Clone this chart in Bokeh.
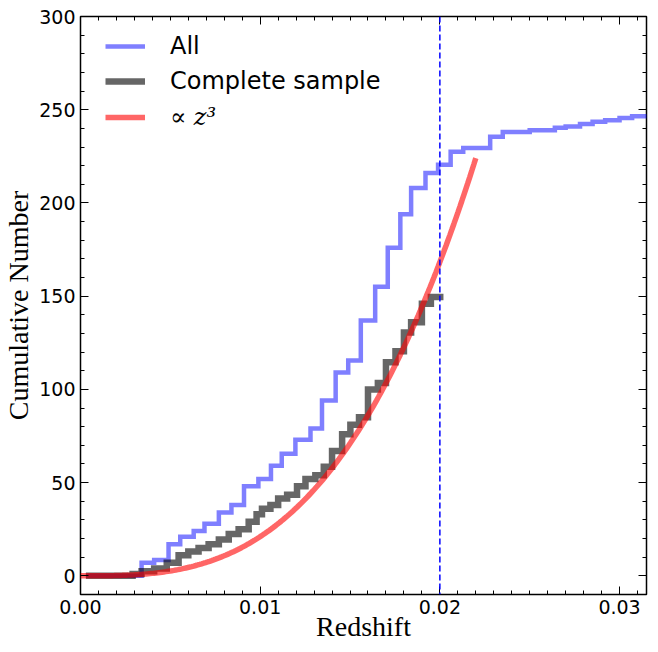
import numpy as np
from bokeh.plotting import figure
from bokeh.models import LinearAxis, FixedTicker, Span, Legend, LegendItem
from bokeh.embed import file_html
from bokeh.resources import INLINE

# ---- data ----
all_z = [0.0003, 0.0034, 0.0041, 0.0049, 0.00555, 0.0063, 0.0069, 0.0077, 0.0084,
         0.0091, 0.0099, 0.0106, 0.0112, 0.01196, 0.0128, 0.01344, 0.0142, 0.0149,
         0.0156, 0.0164, 0.0171, 0.0178, 0.0184, 0.0192, 0.0199, 0.0206, 0.0213,
         0.0228, 0.0235, 0.0250, 0.0264, 0.0270, 0.0278, 0.0285, 0.0292, 0.0300,
         0.0307, 0.0316]
all_n = [0, 7, 8.5, 17, 21, 24, 28, 34, 38,
         48, 52, 59, 65.5, 73, 79, 94, 109, 115.5,
         137, 155, 176, 194, 208, 216, 220.5, 227.5, 229.5,
         235.5, 238, 239, 240.3, 241, 242.4, 243.5, 244.4, 245.6,
         246.5, 247]

comp_z = [0.0003, 0.0029, 0.0034, 0.0041, 0.0048, 0.00546, 0.0060, 0.00657, 0.00713,
          0.0077, 0.00825, 0.0088, 0.00936, 0.0098, 0.0101, 0.01057, 0.0110, 0.0115,
          0.01205, 0.01252, 0.01307, 0.01354, 0.0140, 0.01456, 0.01502, 0.0155,
          0.0160, 0.01655, 0.0170, 0.01753, 0.0180, 0.0184, 0.0190, 0.0195, 0.0202]
comp_n = [0, 1, 2.5, 4, 7, 11, 13, 15, 17,
          19.5, 22.5, 25, 29, 33, 36, 38, 41.5, 43.5,
          48, 52, 54, 58.5, 67, 76, 81, 85,
          100, 103.5, 114.5, 120.5, 130.5, 136, 146, 149.5, 149.5]

model_z_end = 0.022
model_n_end = 224.0
model_z = np.linspace(0.0, model_z_end, 200)
model_n = model_n_end * (model_z / model_z_end) ** 3

z_limit = 0.02

x_ticks = [0.0, 0.01, 0.02, 0.03]
x_tick_labels = ["0.00", "0.01", "0.02", "0.03"]
x_minor = [round(i * 0.001, 4) for i in range(0, 32)]
y_ticks = [0, 50, 100, 150, 200, 250, 300]
y_tick_labels = ["0", "50", "100", "150", "200", "250", "300"]
y_minor = list(range(-10, 301, 10))

# ---- figure ----
p = figure(frame_width=566, frame_height=578, x_range=(0, 0.0315), y_range=(-10, 300),
           output_backend="svg", toolbar_location=None,
           min_border_left=78, min_border_right=2, min_border_top=16, min_border_bottom=49,
           background_fill_color="white", border_fill_color="white")
p.grid.visible = False
p.outline_line_color = "black"
p.outline_line_width = 1.5

r_all = p.step(all_z, all_n, mode="after", line_color="blue", line_alpha=0.5,
               line_width=4.5, line_join="miter")
r_comp = p.step(comp_z, comp_n, mode="after", line_color="black", line_alpha=0.6,
                line_width=6.5, line_join="miter")
r_model = p.line(model_z, model_n, line_color="red", line_alpha=0.6, line_width=5.5)

p.add_layout(Span(location=z_limit, dimension="height", line_color="blue",
                  line_dash="6 3", line_width=1.5))

def style_axis(ax, ticks, minor, labels, show_labels=True):
    ax.ticker = FixedTicker(ticks=ticks, minor_ticks=minor)
    ax.major_label_overrides = dict(zip(ticks, labels))
    ax.axis_line_color = None
    ax.major_tick_in = 8
    ax.major_tick_out = 0
    ax.minor_tick_in = 4
    ax.minor_tick_out = 0
    ax.major_tick_line_color = "black"
    ax.minor_tick_line_color = "black"
    ax.major_tick_line_width = 1
    ax.minor_tick_line_width = 1
    if show_labels:
        ax.major_label_text_font = "DejaVu Sans"
        ax.major_label_text_font_size = "19px"
        ax.major_label_text_color = "black"
    else:
        ax.major_label_text_font_size = "0px"
        ax.major_label_text_color = None
        ax.major_label_standoff = 0

xa = p.xaxis[0]
style_axis(xa, x_ticks, x_minor, x_tick_labels)
xa.major_label_standoff = 5
xa.axis_label = "Redshift"
xa.axis_label_text_font = "Liberation Serif"
xa.axis_label_text_font_size = "28px"
xa.axis_label_text_font_style = "normal"
xa.axis_label_text_color = "black"
xa.axis_label_standoff = -6

ya = p.yaxis[0]
style_axis(ya, y_ticks, y_minor, y_tick_labels)
ya.major_label_standoff = 5
ya.axis_label = "Cumulative Number"
ya.axis_label_text_font = "Liberation Serif"
ya.axis_label_text_font_size = "28px"
ya.axis_label_text_font_style = "normal"
ya.axis_label_text_color = "black"
ya.axis_label_standoff = 2

top = LinearAxis()
style_axis(top, x_ticks, x_minor, ["", "", "", ""], show_labels=False)
p.add_layout(top, "above")
right = LinearAxis()
style_axis(right, y_ticks, y_minor, [""] * len(y_ticks), show_labels=False)
p.add_layout(right, "right")

def make_legend(items, loc, font, size, style):
    lg = Legend(items=items, location=loc)
    lg.glyph_width = 40
    lg.glyph_height = 34
    lg.label_height = 34
    lg.label_standoff = 25
    lg.spacing = 1
    lg.padding = 0
    lg.margin = 0
    lg.border_line_color = None
    lg.background_fill_alpha = 0
    lg.label_text_font = font
    lg.label_text_font_size = size
    lg.label_text_font_style = style
    lg.label_text_color = "black"
    lg.label_text_baseline = "middle"
    return lg

leg1 = make_legend([LegendItem(label="All", renderers=[r_all]),
                    LegendItem(label="Complete sample", renderers=[r_comp])],
                   (25, 496), "DejaVu Sans", "24px", "normal")
leg2 = make_legend([LegendItem(label="∝ z³", renderers=[r_model])],
                   (25, 460), "DejaVu Serif", "24px", "italic")
p.add_layout(leg1)
p.add_layout(leg2)

open("out.html", "w").write(file_html(p, INLINE))
